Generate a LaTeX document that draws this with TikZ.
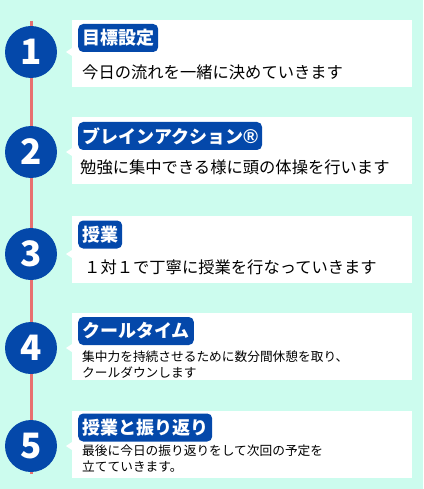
\documentclass[tikz,border=0pt]{standalone}
\usepackage{fontspec}
\setmainfont{Noto Sans CJK JP}
\newfontfamily\regmark{Liberation Sans}
\usepackage{xcolor}
\usetikzlibrary{positioning}
\definecolor{Mint}{RGB}{204,252,238}
\definecolor{Salmon}{RGB}{232,112,112}
\definecolor{Navy}{RGB}{4,72,170}
\tikzset{
  stepnum/.style={circle,fill=Navy,minimum size=52pt,inner sep=0pt,text=white,font=\bfseries\fontsize{35}{35}\selectfont},
  card/.style={fill=white,minimum width=340pt,minimum height=67pt,anchor=north west,inner sep=0pt},
  tag/.style={fill=Navy,rounded corners=5pt,text=white,anchor=west,inner xsep=4pt,inner ysep=0pt,minimum height=28pt,font=\bfseries\fontsize{18}{18}\selectfont},
  body/.style={anchor=west,inner sep=0pt,align=left,font=\fontsize{16.3}{20}\selectfont},
  smallbody/.style={body,font=\fontsize{12.7}{16}\selectfont},
  timeline/.style={draw=Salmon,line width=3pt}
}
\begin{document}
\begin{tikzpicture}[x=1pt,y=-1pt]
\fill[Mint] (0,0) rectangle (423,489);
\useasboundingbox (0,0) rectangle (423,489);
% cards
\node[card] (b1) at (72,20) {};
\node[card] (b2) at (72,117) {};
\node[card] (b3) at (72,216) {};
\node[card] (b4) at (72,313) {};
\node[card] (b5) at (72,411) {};
% steps
\node[stepnum] (c1) at (31,52) {1};
\node[stepnum] (c2) at (31,152) {2};
\node[stepnum] (c3) at (31,254) {3};
\node[stepnum] (c4) at (31,348) {4};
\node[stepnum] (c5) at (31,446) {5};
% pointers
\fill[white] (b1.west |- c1) ++(0,-4) -- ++(-6,4) -- ++(6,4) -- cycle;
\fill[white] (b2.west |- c2) ++(0,-4) -- ++(-6,4) -- ++(6,4) -- cycle;
\fill[white] (b3.west |- c3) ++(0,-4) -- ++(-6,4) -- ++(6,4) -- cycle;
\fill[white] (b4.west |- c4) ++(0,-4) -- ++(-6,4) -- ++(6,4) -- cycle;
\fill[white] (b5.west |- c5) ++(0,-4) -- ++(-6,4) -- ++(6,4) -- cycle;
% timeline
\coordinate (top) at (31,21);
\coordinate (bottom) at (31,474);
\draw[timeline] (top)--(c1); \draw[timeline] (c1)--(c2); \draw[timeline] (c2)--(c3);
\draw[timeline] (c3)--(c4); \draw[timeline] (c4)--(c5); \draw[timeline] (c5)--(bottom);
% titles
\node[tag] (t1) at (78,38) {目標設定};
\node[tag] (t2) at (78,136) {ブレインアクション{\regmark\bfseries\fontsize{20}{20}\selectfont ®}};
\node[tag] (t3) at (78,234.5) {授業};
\node[tag] (t4) at (78,331) {クールタイム};
\node[tag] (t5) at (78,427.5) {授業と振り返り};
% texts
\node[body] (d1) at (82,72) {今日の流れを一緒に決めていきます};
\node[body] (d2) at (80,167) {勉強に集中できる様に頭の体操を行います};
\node[body] (d3) at (84,267) {１対１で丁寧に授業を行なっていきます};
\node[smallbody] (d4) at (82,365) {集中力を持続させるために数分間休憩を取り、\\クールダウンします};
\node[smallbody] (d5) at (82,459) {最後に今日の振り返りをして次回の予定を\\立てていきます。};
\end{tikzpicture}
\end{document}
